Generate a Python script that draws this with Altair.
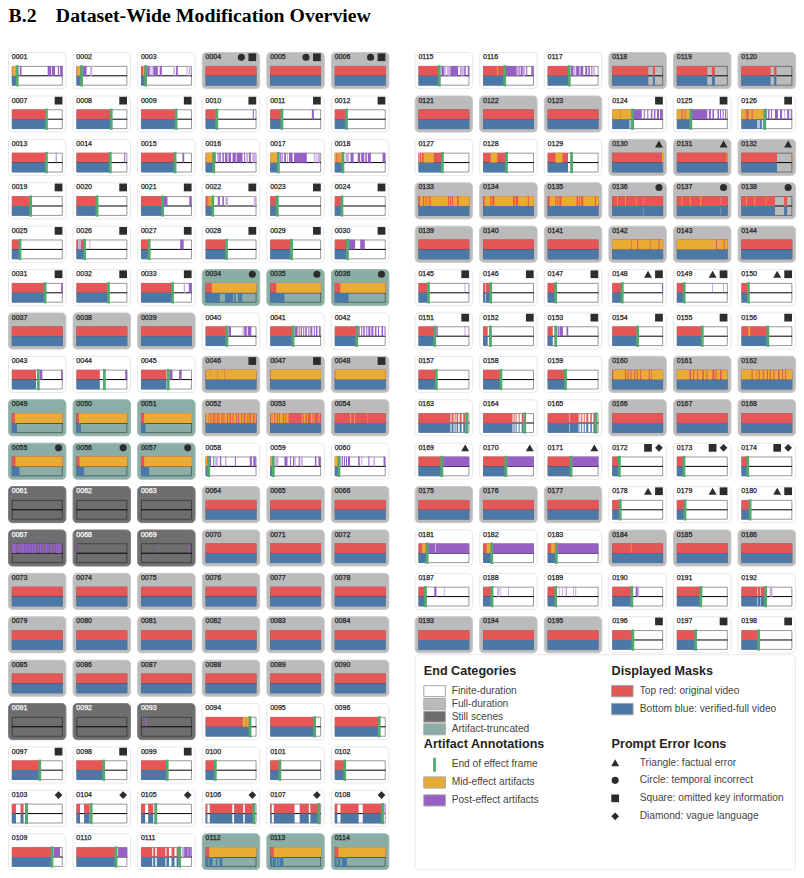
import altair as alt
import pandas as pd

alt.data_transformers.disable_max_rows()

TRIO_CATEGORY = "FUFFFFFFFFFTUFFUTUTFSUSUUUUUUUSFFFFFFT" + "FUUFFUUUUUFFFFFUFUFFUFFUFFUF"
TRIO_ICONS = {
    4: "cs", 7: "s", 10: "s", 19: "s", 22: "s", 25: "s", 28: "s", 31: "s", 34: "c", 46: "s", 55: "c",
    97: "s", 103: "d", 106: "d", 124: "s", 130: "t", 136: "c", 145: "s", 148: "ts", 151: "s", 154: "s",
    169: "t", 172: "sd", 178: "ts", 196: "s",
}

END = {
    1: 10.5, 2: 10, 3: 9, 7: 68, 8: 68.5, 9: 69, 10: 22, 11: 23, 12: 23, 13: 68, 14: 66.5, 15: 67,
    16: 16, 17: 16, 18: 16, 19: 37, 20: 40.5, 21: 42.5, 22: 14, 23: 14, 24: 14, 25: 16, 26: 16, 27: 16,
    28: 41, 29: 42, 30: 25, 31: 65.5, 32: 63, 33: 62, 40: 42, 41: 45, 42: 43, 43: 52, 44: 55, 45: 53.5,
    58: 6, 59: 6, 60: 8, 94: 87.5, 95: 87.5, 96: 87.5, 97: 55, 98: 53.6, 99: 51.6, 100: 19, 101: 19,
    102: 19.5, 103: 29, 104: 29, 105: 29, 106: 95, 107: 96, 108: 94, 109: 79, 110: 78, 111: 76,
    115: 41, 116: 42.5, 117: 42.5, 124: 40, 125: 27.5, 126: 46, 127: 47, 128: 46, 129: 47,
    145: 19.6, 146: 15, 147: 15.7, 148: 19.6, 149: 14.4, 150: 13.7, 151: 32, 152: 14.4, 153: 15.7,
    154: 50, 155: 50, 156: 52, 157: 35, 158: 35, 159: 35, 163: 95, 164: 82, 165: 95,
    169: 46, 170: 45, 171: 46, 172: 14, 173: 14, 174: 12.4, 178: 15.7, 179: 16, 180: 17,
    181: 17, 182: 17, 183: 17, 187: 13.7, 188: 17.6, 189: 15.7, 190: 38.5, 191: 47, 192: 47.7,
    196: 40.5, 197: 37, 198: 34,
}

TOP = {
    34: [[0, 100]], 43: [[0, 47.5]], 44: [[0, 46]], 45: [[0, 50]],
    103: [[0, 8], [17, 23], [26, 29]], 104: [[0, 7], [15, 26]], 105: [[0, 8], [14, 24], [27, 29]],
    106: [[0, 3.5], [8, 52.5], [56, 74], [77, 95]], 107: [[0, 3], [7, 48], [58, 76], [79, 96]],
    108: [[0, 5], [11, 47], [55, 94]], 111: [[0, 22], [24, 28], [31, 48], [50, 55], [60, 66], [70, 76]],
    118: [[0, 71], [80, 84]], 119: [[0, 60], [69, 75]], 120: [[0, 57.5], [64, 69]],
    129: [[0, 40]], 132: [[0, 70], [99, 100]],
    136: [[0, 60.7], [61.3, 100]], 137: [[0, 85.7], [86.3, 100]], 138: [[0, 66], [84, 90]],
    146: [[0, 4.5], [5.5, 15]], 152: [[0, 9]], 153: [[0, 10]],
    163: [[0, 62], [63, 65], [66, 69], [71, 73], [75, 78], [81, 85], [88, 92], [93, 95]],
    164: [[0, 58], [60, 62], [64, 66], [70, 72], [76, 79], [80, 82]],
    165: [[0, 43], [44, 61], [63, 64], [66, 68], [71, 73], [76, 80], [84, 87], [90, 95]],
    192: [[0, 31.5], [32.5, 37.5], [38.5, 47.7]],
}

BOTTOM = {
    34: [[0, 28], [38, 54], [56, 59], [64, 72]], 35: [[0, 28]], 36: [[0, 27]],
    49: [[0, 10]], 50: [[0, 9]], 51: [[0, 9]], 55: [[0, 15]], 56: [[0, 15]], 57: [[0, 16]],
    112: [[0, 5], [6, 14], [20, 23], [27, 33]], 113: [[0, 4], [5, 11], [13, 16], [18, 26]],
    114: [[0, 4], [6, 11], [14, 24]],
    124: [[0, 34], [35, 36], [37, 38]], 126: [[0, 31], [32, 33], [34, 35], [36, 40], [42, 44]],
    132: [[0, 70]], 138: [[0, 66], [84, 90]],
}

MID = {
    1: [[1, 8]], 2: [[1, 7]], 3: [[4, 7]], 16: [[1, 13]], 17: [[0, 14]], 18: [[0, 3], [5, 8], [9, 15]],
    22: [[4, 6], [7, 13]], 34: [[12, 100]], 35: [[12, 100]], 36: [[11, 100]],
    46: [[1, 10], [10.6, 23], [23.6, 37], [37.6, 100]], 47: [[1, 100]], 48: [[1, 100]],
    49: [[6, 100]], 50: [[5, 100]], 51: [[6, 100]],
    52: [[1, 5], [6, 9], [11, 14], [16, 17], [19, 22], [24, 25], [27, 31], [33, 35], [37, 42], [44, 47],
         [50, 53], [55, 60], [62, 64], [66, 70], [72, 75], [78, 82], [84, 86], [89, 93], [96, 99]],
    53: [[1, 3], [4, 8], [10, 13], [15, 17], [19, 25], [27, 30], [32, 36], [62, 64], [66, 69], [72, 74],
         [80, 83], [85, 87], [95, 97]],
    54: [[30, 32], [38, 40], [64.5, 65.5]],
    55: [[7, 100]], 56: [[6, 100]], 57: [[6, 100]], 58: [[0, 4]], 59: [[0, 4]], 60: [[0, 6]],
    94: [[73, 79], [80, 85]], 112: [[7, 100]], 113: [[7, 100]], 114: [[7, 100]], 116: [[28, 29.5]],
    124: [[0, 15], [16, 40]], 125: [[0, 9], [10, 11], [12, 14], [15, 17], [18, 27]],
    126: [[0, 8], [9, 10], [14, 20], [22, 45]], 127: [[1, 3], [5, 7], [10, 30]], 128: [[15, 28]], 129: [[15, 29]],
    130: [[98, 100]], 131: [[98, 100]], 132: [[99, 100]],
    133: [[3, 9], [11, 14], [16, 20], [22, 23], [24, 58], [60, 62], [64, 66], [68, 76], [79, 100]],
    134: [[3, 14], [16, 18], [22, 59], [62, 64], [69, 88], [90, 100]],
    135: [[4, 15], [17, 19], [21, 23], [27, 57], [60, 62], [64, 66], [70, 93], [95, 100]],
    136: [[9.5, 11], [25.5, 27], [47.5, 48.5]], 137: [[9.5, 11], [25.5, 27], [46, 48]],
    138: [[9.5, 11], [25.5, 27], [48, 49]],
    142: [[0, 37], [38, 49], [51, 74], [75.5, 91], [93, 100]], 143: [[0, 77], [79, 92], [94, 100]],
    156: [[13.5, 17]],
    160: [[2, 25], [27, 30], [32, 36], [38, 43], [45, 48], [50, 55], [57, 72], [74, 77], [78, 100]],
    161: [[0, 25], [28, 32], [34, 40], [42, 50], [53, 58], [60, 70], [74, 76], [78, 85], [88, 100]],
    162: [[0, 20], [22, 30], [31, 34], [36, 42], [44, 50], [52, 56], [58, 63], [65, 72], [75, 80], [82, 86], [88, 100]],
    181: [[7, 14]], 182: [[7, 15]], 183: [[7, 14]], 184: [[37.5, 38.5]],
}

POST = {
    1: [[15.5, 19], [70.5, 77], [78.5, 85], [90.5, 93], [95, 100]], 2: [[13, 20]],
    3: [[12, 17], [24, 33], [36.6, 41], [69, 72.5]],
    10: [[93, 95]], 11: [[82, 86]], 13: [[86.5, 88]], 14: [[94, 96]], 15: [[81.5, 85]],
    16: [[17, 20], [23.5, 25.5], [27, 30], [33, 36], [38, 43], [45, 50], [53, 59.5], [61, 72.5], [76, 78], [85.5, 89]],
    17: [[19.6, 22], [23, 24.5], [27.5, 31], [33, 34], [37, 44], [47, 72]],
    18: [[31, 37], [45, 50], [52, 58], [60, 63], [65, 71], [94, 99]],
    21: [[45, 52], [95, 99]], 22: [[24, 28], [33, 36]], 26: [[26, 27]], 27: [[77, 84]],
    30: [[28, 40], [50, 59]], 31: [[97, 100]], 33: [[94, 100]],
    40: [[45, 50], [76, 81], [83, 90]],
    41: [[48, 54], [56, 58], [60, 62.5], [65, 67], [69, 72], [75, 77], [79, 83], [86, 88], [90, 93], [96, 98]],
    42: [[46, 49], [52, 54], [56, 59], [62, 64], [66, 70], [72, 76], [79, 82], [85, 87], [92, 95]],
    43: [[55, 60], [97, 100]], 44: [[96, 100]], 45: [[56, 62], [75, 80]],
    58: [[8, 10.5], [15, 17], [28, 30.7], [39, 40.5], [57.5, 59.5], [87, 91], [94, 98.7]],
    59: [[28, 34], [39, 41], [45, 47], [56, 58], [88, 91], [95, 99]],
    60: [[14, 16], [18, 20], [22, 24], [26, 30], [46, 49], [66, 68], [96, 99]],
    67: [[0, 8], [9, 11], [12, 16], [17, 25], [26, 30], [31, 34], [35, 38], [39, 43], [44, 48], [50, 53], [55, 58],
         [60, 63], [65, 70], [72, 74], [76, 80], [82, 85], [87, 98]],
    68: [[0, 1.5]], 69: [[34.5, 35.5], [93.5, 95]], 93: [[2, 3.5], [8.5, 10.5]],
    109: [[82, 95]], 110: [[82, 100]], 111: [[85, 92], [93, 98]],
    115: [[45, 50], [63, 78], [82, 83], [90, 93], [97, 100]],
    116: [[44.5, 66], [70, 72], [74, 78], [85, 87], [95, 99]],
    117: [[46, 51], [56, 62], [65, 70], [74, 78], [80, 83], [86, 88]],
    124: [[41, 58], [62, 64], [69, 71], [76, 79], [82, 85], [88, 92], [94, 99]],
    125: [[29, 60], [63, 67], [70, 73], [80, 83], [85, 87], [90, 92], [95, 97]],
    126: [[48, 50], [52, 55], [58, 60], [66, 72], [76, 80], [85, 86], [90, 94], [97, 99]],
    145: [[91, 92]], 148: [[98, 100]], 149: [[70, 71], [91, 92]],
    151: [[35, 38], [91, 92]], 153: [[20, 22], [24, 30], [37, 40.5]],
    169: [[46, 100]], 170: [[45, 100]], 171: [[46, 100]],
    181: [[17.5, 32.5], [33.5, 100]], 182: [[17.5, 100]], 183: [[17.5, 100]],
    187: [[31, 35], [50, 51]], 188: [[50, 51]], 189: [[22, 23], [35.5, 37], [51, 52], [55, 56]],
    190: [[46, 50]], 191: [[47.5, 50]],
}

FAINT = {
    2: [[27, 31]], 3: [[18, 20], [21, 23], [64, 67], [89.5, 91.5], [94, 97]], 16: [[80, 84], [92, 98.7]],
    17: [[86, 89], [91, 93], [94, 98]], 18: [[21, 28]], 22: [[39, 44], [95, 99]], 26: [[3, 9]],
    33: [[84, 87]], 40: [[72.5, 75]], 42: [[97, 99]], 58: [[19, 24]], 59: [[10, 16], [47, 50], [60, 64]],
    60: [[10, 13], [52, 54], [76, 79]], 108: [[96, 100]], 111: [[80, 85]],
    115: [[50, 54], [56, 63], [83, 89]], 116: [[66, 70], [78, 83]], 117: [[52, 55], [62, 65], [90, 93]],
    153: [[19, 20], [22, 24]], 187: [[35, 36]], 188: [[28, 32], [34, 35.5]], 189: [[28, 30]],
    190: [[50, 53]], 192: [[56, 61]],
}

LEGEND_CATEGORIES = ["Finite-duration", "Full-duration", "Still scenes", "Artifact-truncated"]
LEGEND_ARTIFACTS = ["End of effect frame", "Mid-effect artifacts", "Post-effect artifacts"]
LEGEND_MASKS = ["Top red: original video", "Bottom blue: verified-full video"]
LEGEND_ICONS = ["Triangle: factual error", "Circle: temporal incorrect",
                "Square: omitted key information", "Diamond: vague language"]

# styling and layout
RED, BLUE, ORANGE, PURPLE, FAINT_PURPLE, GREEN = "#e45756", "#4c78a8", "#e8ac35", "#9660c4", "#c9aae2", "#54a96e"
CARD_FILL = {"F": "#ffffff", "U": "#bbbbbb", "S": "#6e6e6e", "T": "#8aaea6"}
CARD_STROKE = {"F": "#e8e8e8", "U": "#c8c8c8", "S": "#808080", "T": "#9bbab3"}
ICON_DARK = "#2d2d2d"
SHAPES = {"t": "triangle-up", "c": "circle", "s": "square", "d": "diamond"}
ICON_SIZE = {"t": 64, "c": 50, "s": 60, "d": 60}
X_LEFT, X_RIGHT, X_PITCH, Y0, Y_PITCH = 6.7, 415.3, 64.9, 51.7, 43.53
CARD_W, CARD_H, PAD_X, BAR_W, BAR_TOP, BAR_MID, BAR_BOT = 57.7, 36.2, 3.4, 51.0, 13.5, 23.3, 33.1
FRAME_INSET = 0.35

cards, bars, mids, frames, ends, labels, labels_light, icons = [], [], [], [], [], [], [], []
for cid in range(1, 199):
    t = (cid - 1) // 3
    slot = (cid - 1)
    cat = TRIO_CATEGORY[t]
    if cid <= 114:
        col, row, x0 = slot % 6, slot // 6, X_LEFT
    else:
        col, row, x0 = (slot - 114) % 6, (slot - 114) // 6, X_RIGHT
    cx, cy = x0 + col * X_PITCH, Y0 + row * Y_PITCH
    bx = cx + PAD_X
    px = lambda v: bx + v / 100 * BAR_W
    cards.append(dict(x=cx, x2=cx + CARD_W, y=cy, y2=cy + CARD_H, fill=CARD_FILL[cat], stroke=CARD_STROKE[cat]))
    (labels_light if cat == "S" else labels).append(dict(x=cx + 3.3, y=cy + 4.6, text=f"{cid:04d}"))
    ym = cy + BAR_MID
    yt, yb = cy + BAR_TOP, cy + BAR_BOT
    mids.append(dict(x=bx, x2=bx + BAR_W, y=ym))
    frames.append(dict(x=bx + FRAME_INSET, x2=bx + BAR_W - FRAME_INSET, y=yt + FRAME_INSET, y2=yb - FRAME_INSET))

    end = END.get(cid)
    default = [] if cat == "S" else [[0, end if end is not None else 100]]
    top = TOP.get(cid, default)
    bottom = BOTTOM.get(cid, top)
    for a, b in top:
        bars.append(dict(x=px(a), x2=px(b), y=yt, y2=ym, fill=RED))
    for a, b in bottom:
        bars.append(dict(x=px(a), x2=px(b), y=ym, y2=yb, fill=BLUE))
    for a, b in MID.get(cid, []):
        bars.append(dict(x=px(a), x2=px(b), y=yt, y2=ym, fill=ORANGE))
    for a, b in FAINT.get(cid, []):
        bars.append(dict(x=px(a), x2=px(b), y=yt, y2=ym, fill=FAINT_PURPLE))
    for a, b in POST.get(cid, []):
        bars.append(dict(x=px(a), x2=px(b), y=yt, y2=ym, fill=PURPLE))
    if end is not None:
        ends.append(dict(x=px(end), y=yt - 0.8, y2=yb + 0.9))
    kinds = TRIO_ICONS.get(3 * t + 1, "")
    offs = [50.3] if len(kinds) == 1 else [39.3, 50.3]
    for k, off in zip(kinds, offs):
        icons.append(dict(x=cx + off, y=cy + 4.7, shape=SHAPES[k], size=ICON_SIZE[k], fill=ICON_DARK))

# legend
legend_box = [dict(x=415.3, x2=797.3, y=655.7, y2=871.3, fill="#ffffff", stroke="#e8e8e8")]
heads = [
    dict(x=424, y=672, text="End Categories"), dict(x=424, y=745.7, text="Artifact Annotations"),
    dict(x=612.7, y=672, text="Displayed Masks"), dict(x=612.7, y=745.7, text="Prompt Error Icons"),
]
legend_text = []
swatches = []
for name, key, yc in zip(LEGEND_CATEGORIES, "FUST", [692.2, 705, 717.8, 730.5]):
    swatches.append(dict(x=424, x2=445.7, y=yc - 5.5, y2=yc + 5.5, fill=CARD_FILL[key], stroke="#a8a8a8"))
    legend_text.append(dict(x=452, y=yc, text=name))
for name, yc in zip(LEGEND_ARTIFACTS, [765.7, 783.7, 801.7]):
    legend_text.append(dict(x=452, y=yc, text=name))
ends.append(dict(x=434.8, y=759, y2=773))
swatches.append(dict(x=424, x2=445.7, y=778.2, y2=789.4, fill=ORANGE, stroke="#a8a8a8"))
swatches.append(dict(x=424, x2=445.7, y=796.2, y2=807.4, fill=PURPLE, stroke="#a8a8a8"))
for name, fill, yc in zip(LEGEND_MASKS, [RED, BLUE], [692.2, 710.2]):
    swatches.append(dict(x=612.7, x2=634.3, y=yc - 5.7, y2=yc + 5.7, fill=fill, stroke="#a8a8a8"))
    legend_text.append(dict(x=641, y=yc, text=name))
for name, k, yc in zip(LEGEND_ICONS, "tcsd", [764, 781.7, 799.7, 817.7]):
    icons.append(dict(x=616.3, y=yc, shape=SHAPES[k], size=ICON_SIZE[k], fill=ICON_DARK))
    legend_text.append(dict(x=641, y=yc, text=name))

title_rows = [dict(x=6.7, y=14.6, text="B.2"), dict(x=54.3, y=14.6, text="Dataset-Wide Modification Overview")]

W, H = 788, 862
X = alt.X("x:Q", scale=alt.Scale(domain=[6.2, 798.0], range=[0, W], nice=False, zero=False), axis=None)
X2 = alt.X2("x2:Q")
Y = alt.Y("y:Q", scale=alt.Scale(domain=[7.0, 871.6], range=[0, H], nice=False, zero=False), axis=None)
Y2 = alt.Y2("y2:Q")
FILL = alt.Fill("fill:N", scale=None)
STROKE = alt.Stroke("stroke:N", scale=None)


def txt(rows, **kw):
    return alt.Chart(pd.DataFrame(rows)).mark_text(align="left", baseline="middle", **kw).encode(
        x=X, y=Y, text="text:N")


layers = [
    alt.Chart(pd.DataFrame(legend_box + cards)).mark_rect(cornerRadius=4, strokeWidth=1).encode(
        x=X, x2=X2, y=Y, y2=Y2, fill=FILL, stroke=STROKE),
    alt.Chart(pd.DataFrame(mids)).mark_rule(color="#000000", strokeWidth=1).encode(x=X, x2=X2, y=Y),
    alt.Chart(pd.DataFrame(frames)).mark_rect(filled=False, stroke="#000000", strokeOpacity=0.4, strokeWidth=1).encode(
        x=X, x2=X2, y=Y, y2=Y2),
    alt.Chart(pd.DataFrame(bars)).mark_rect(strokeWidth=0).encode(x=X, x2=X2, y=Y, y2=Y2, fill=FILL),
    alt.Chart(pd.DataFrame(ends)).mark_rule(color=GREEN, strokeWidth=2.8).encode(x=X, y=Y, y2=Y2),
    alt.Chart(pd.DataFrame(swatches)).mark_rect(strokeWidth=1).encode(x=X, x2=X2, y=Y, y2=Y2, fill=FILL, stroke=STROKE),
    alt.Chart(pd.DataFrame(icons)).mark_point(filled=True, opacity=1, strokeWidth=0).encode(
        x=X, y=Y, shape=alt.Shape("shape:N", scale=None), size=alt.Size("size:Q", scale=None), fill=FILL),
    txt(labels, font="Liberation Sans", fontSize=7, color="#222222", stroke="#222222", strokeWidth=0.25, opacity=0.99),
    txt(labels_light, font="Liberation Sans", fontSize=7, color="#ffffff", stroke="#ffffff", strokeWidth=0.25, opacity=0.99),
    txt(title_rows, font="Liberation Serif", fontSize=19.8, fontWeight="bold", color="#000000"),
    txt(heads, font="Liberation Sans", fontSize=12.6, fontWeight="bold", color="#222222", opacity=0.99),
    txt(legend_text, font="Liberation Sans", fontSize=10.2, color="#444444", opacity=0.99),
]

chart = alt.layer(*layers).properties(
    width=W, height=H, padding=0, autosize=alt.AutoSizeParams(type="none"), background="#ffffff"
).configure_view(stroke=None)

chart.save("out.html", embed_options={"renderer": "svg", "actions": False})
